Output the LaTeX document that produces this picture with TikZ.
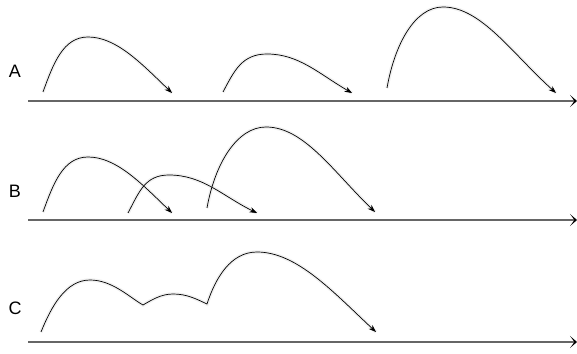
\documentclass[tikz,border=0pt]{standalone}
\usepackage{fontspec}
\setmainfont{Liberation Sans}
\usetikzlibrary{arrows.meta}

\tikzset{
    axis/.style = {draw=black!60, line width=1.1pt, -{Stealth[length=7pt,width=12pt,inset=4.5pt,black]}},
    hop/.style = {draw=black, line width=0.7pt, -{Stealth[length=7.5pt,width=5.5pt]},
        preaction={draw=black!30, line width=3.5pt, opacity=0.2, -{}}},
    lbl/.style = {font=\fontsize{18}{18}\selectfont, inner sep=0pt}
}

\begin{document}
\begin{tikzpicture}[x=1pt, y=1pt]
            \useasboundingbox (0, 0) rectangle (577, 353);
            {
                \node[lbl] (A) at (15, 282) {A};
                \node[lbl] (B) at (15, 162) {B};
                \node[lbl] (C) at (15, 45) {C};

                % axes
                \coordinate (a0) at (28, 252);
                \coordinate (a1) at (577, 252);
                \coordinate (b0) at (28, 133);
                \coordinate (b1) at (577, 133);
                \coordinate (c0) at (28, 11);
                \coordinate (c1) at (577, 11);

                % row A
                \coordinate (A1s) at (43, 261);
                \coordinate (A1p) at (88, 316);
                \coordinate (A1e) at (172, 260);
                \coordinate (A2s) at (223, 261);
                \coordinate (A2p) at (267, 299);
                \coordinate (A2e) at (352, 260);
                \coordinate (A3s) at (387, 265);
                \coordinate (A3p) at (443, 346);
                \coordinate (A3e) at (556, 260);

                % row B
                \coordinate (B1s) at (43, 141);
                \coordinate (B1p) at (88, 196);
                \coordinate (B1e) at (172, 140);
                \coordinate (B2s) at (128, 140);
                \coordinate (B2p) at (169, 178);
                \coordinate (B2e) at (257, 140);
                \coordinate (B3s) at (207, 145);
                \coordinate (B3p) at (266, 226);
                \coordinate (B3e) at (375, 141);

                % row C
                \coordinate (Cs) at (41, 21);
                \coordinate (Cp1) at (90, 73);
                \coordinate (Cv1) at (143, 48);
                \coordinate (Ch) at (173, 59);
                \coordinate (Cv2) at (207, 49);
                \coordinate (Cp2) at (257, 101);
                \coordinate (Ce) at (376, 21);
            }

            \draw[axis] (a0) -- (a1);
            \draw[axis] (b0) -- (b1);
            \draw[axis] (c0) -- (c1);

            \draw[hop] (A1s) .. controls +(70:30) and +(-25,0) .. (A1p)
                .. controls +(28,0) and +(136:44) .. (A1e);
            \draw[hop] (A2s) .. controls +(62:24) and +(-25,0) .. (A2p)
                .. controls +(32,0) and +(150:38) .. (A2e);
            \draw[hop] (A3s) .. controls +(80:45) and +(-28,0) .. (A3p)
                .. controls +(38,0) and +(138:60) .. (A3e);

            \draw[hop] (B1s) .. controls +(70:30) and +(-25,0) .. (B1p)
                .. controls +(28,0) and +(136:44) .. (B1e);
            \draw[hop] (B2s) .. controls +(62:24) and +(-24,0) .. (B2p)
                .. controls +(34,0) and +(154:38) .. (B2e);
            \draw[hop] (B3s) .. controls +(80:45) and +(-29,0) .. (B3p)
                .. controls +(38,0) and +(136:58) .. (B3e);

            \draw[hop] (Cs) .. controls +(68:28) and +(-24,0) .. (Cp1)
                .. controls +(22,0) and +(150:16) .. (Cv1)
                .. controls +(30:10) and +(-12,0) .. (Ch)
                .. controls +(14,0) and +(155:12) .. (Cv2)
                .. controls +(72:28) and +(-26,0) .. (Cp2)
                .. controls +(40,0) and +(137:58) .. (Ce);

        \end{tikzpicture}
\end{document}
